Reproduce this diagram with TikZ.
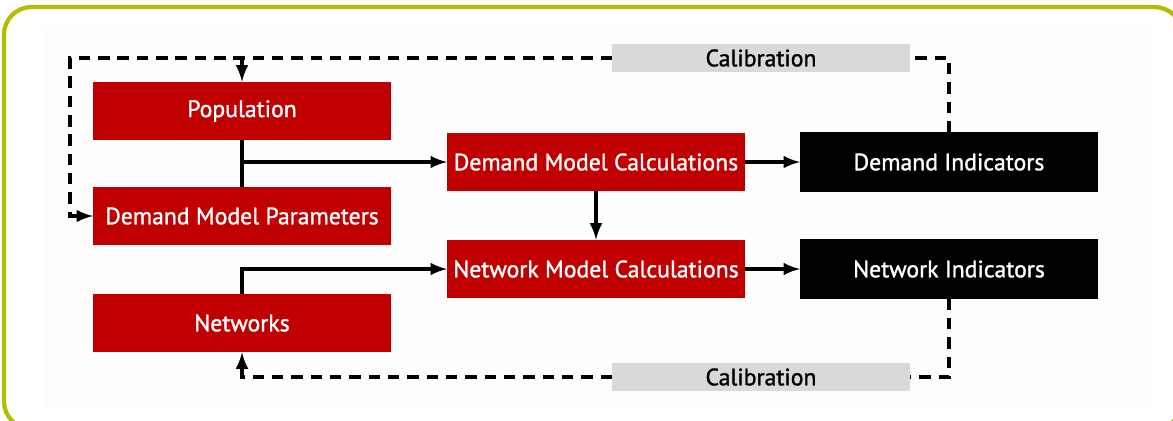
\documentclass[tikz,border=0pt]{standalone}
\usepackage{fontspec}
\setmainfont{PT Sans}[FakeBold=1.3]
\usetikzlibrary{positioning}
\definecolor{boxred}{HTML}{C00000}
\definecolor{calgray}{HTML}{D9D9D9}
\definecolor{frame}{HTML}{B5BD00}
\begin{document}
\begin{tikzpicture}[x=0.02cm, y=-0.02cm]
\tikzset{ >=latex, inner sep=0pt, outer sep=0pt,
  redbox/.style={fill=boxred, text=white, minimum width=5.96cm, minimum height=1.17cm, font=\fontsize{13.5}{14}\selectfont},
  blackbox/.style={fill=black, text=white, minimum width=5.96cm, minimum height=1.19cm, font=\fontsize{13.5}{14}\selectfont},
  calbox/.style={fill=calgray, text=black, minimum width=5.96cm, minimum height=0.55cm, font=\fontsize{13.5}{14}\selectfont},
  flow/.style={line width=2.2pt},
  calflow/.style={line width=2.2pt, dash pattern=on 6.5pt off 4.5pt},
}
\useasboundingbox (0,0) rectangle (1173,420);

%%% Fundo
\begin{scope}
\clip (0,0) rectangle (1173,420);
\fill[gray!1.5] (45,25) rectangle (1150,410);
\draw[frame, line width=2.4pt, rounded corners=0.55cm] (4,7) rectangle (1182,429);
\end{scope}

%%% Blocos

% entradas
\node [redbox] (pop) at (242,111) {Population};
\node [redbox] (dmp) at (242,216) {Demand Model Parameters};
\node [redbox] (net) at (242,323) {Networks};

% modelos
\node [redbox] (dmc) at (596,162) {Demand Model Calculations};
\node [redbox] (nmc) at (596,269) {Network Model Calculations};

% indicadores
\node [blackbox] (di) at (949,162) {Demand Indicators};
\node [blackbox] (ni) at (949,269) {Network Indicators};

% calibracao
\node [calbox] (caltop) at (761,58)  {Calibration};
\node [calbox] (calbot) at (761,377) {Calibration};

%%% Linhas

% populacao + parametros -> demanda
\draw [flow] (pop.south) -- (dmp.north);
\coordinate (popjoin) at (pop.south |- dmc.west);
\draw [->, flow] (popjoin) -- (dmc.west);

% redes -> rede
\draw [->, flow] (net.north) |- (nmc.west);

% demanda -> rede
\draw [->, flow] (dmc.south) -- (nmc.north);

% modelos -> indicadores
\draw [->, flow] (dmc.east) -- (di.west);
\draw [->, flow] (nmc.east) -- (ni.west);

% calibracao superior
\coordinate (topright) at (di.north |- caltop.east);
\coordinate (topleft) at (70,58);
\coordinate (popdrop) at (pop.north |- caltop.west);
\draw [calflow] (di.north) -- (topright) -- (caltop.east);
\draw [->, calflow] (caltop.west) -- (topleft) |- (dmp.west);
\draw [->, flow] (popdrop) -- (pop.north);

% calibracao inferior
\coordinate (botright) at (ni.south |- calbot.east);
\coordinate (botleft) at (net.south |- calbot.west);
\draw [calflow] (ni.south) -- (botright) -- (calbot.east);
\draw [->, calflow] (calbot.west) -- (botleft) -- (net.south);

\end{tikzpicture}
\end{document}
